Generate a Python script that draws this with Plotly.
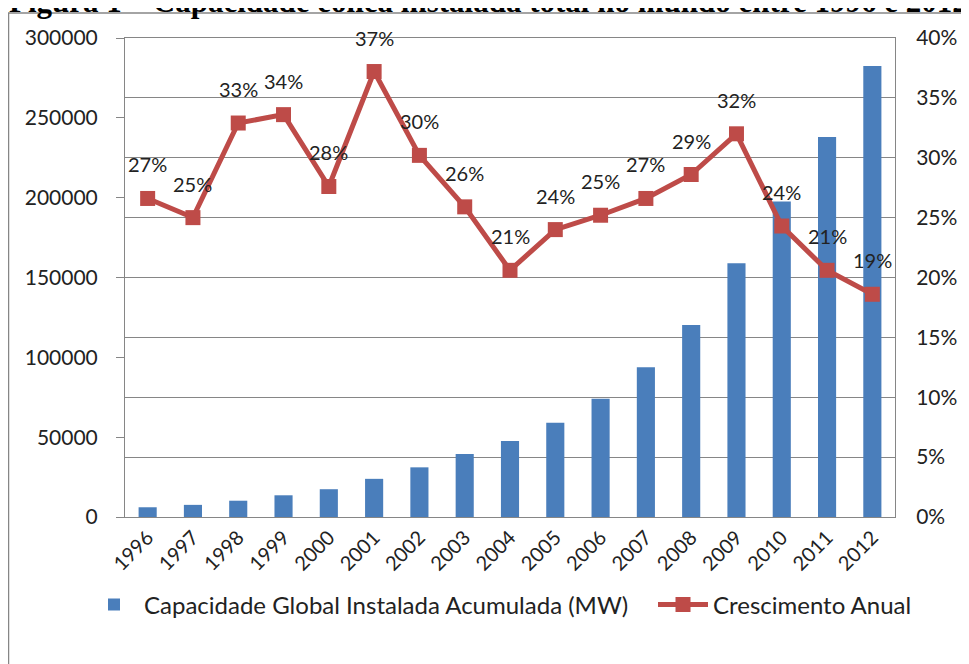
import plotly.graph_objects as go

years = ["1996", "1997", "1998", "1999", "2000", "2001", "2002", "2003", "2004",
         "2005", "2006", "2007", "2008", "2009", "2010", "2011", "2012"]
capacity_mw = [6100, 7600, 10200, 13600, 17400, 23900, 31100, 39400, 47600,
               59100, 74000, 93800, 120300, 158900, 197600, 238000, 282500]
growth_pct = [26.6, 25.0, 32.9, 33.6, 27.6, 37.2, 30.2, 25.9, 20.6,
              24.0, 25.2, 26.6, 28.6, 32.0, 24.3, 20.6, 18.6]

bar_name = "Capacidade Global Instalada Acumulada (MW)"
line_name = "Crescimento Anual"
title = "Figura 1 – Capacidade eólica instalada total no mundo entre 1996 e 2012"

font = "Lato, 'Open Sans', sans-serif"
grey = "#868686"

# plot area in figure pixels (page has an 8px body margin)
L, T, W, H = 117, 30, 770, 479
B = T + H

fig = go.Figure()
fig.add_trace(go.Bar(x=years, y=capacity_mw, name=bar_name, legend="legend",
                     marker=dict(color="#4A7EBB", line=dict(width=0))))
fig.add_trace(go.Scatter(x=years, y=growth_pct, name=line_name, yaxis="y2",
                         legend="legend2", mode="lines+markers",
                         line=dict(color="#BE4B48", width=5),
                         marker=dict(symbol="square", size=15, color="#BE4B48")))

# percentage labels above the points (category index on x)
for i, g in enumerate(growth_pct):
    fig.add_annotation(x=i, y=g, xref="x", yref="y2", text=f"{round(g)}%",
                       showarrow=False, yshift=34,
                       font=dict(family=font, size=20, color="#222222"))

# cropped figure caption at the very top
fig.add_annotation(x=(480 - L) / W, y=(B - 13) / H, xref="paper", yref="paper",
                   text="<b>" + title + "</b>", showarrow=False,
                   yanchor="bottom", xanchor="center",
                   font=dict(family="Liberation Serif, serif", size=31, color="black"))

# outer chart border
fig.add_shape(type="rect", xref="paper", yref="paper",
              x0=(0.5 - L) / W, x1=(990 - L) / W,
              y0=(B - 700) / H, y1=(B - 5) / H,
              line=dict(color=grey, width=1.5), fillcolor="rgba(0,0,0,0)")

leg = dict(orientation="h", xanchor="left", y=(B - 597) / H, yanchor="middle",
           font=dict(size=24), itemwidth=50, bgcolor="rgba(0,0,0,0)")

fig.update_layout(
    width=961, height=656,
    margin=dict(l=L, r=961 - L - W, t=T, b=656 - B),
    paper_bgcolor="white", plot_bgcolor="white",
    font=dict(family=font, size=19, color="#222222"),
    bargap=0.6,
    showlegend=True,
    legend=dict(leg, x=(76 - L) / W),
    legend2=dict(leg, x=(645 - L) / W),
    xaxis=dict(type="category", range=[-0.5, 16.5], tickangle=-45, showline=True,
               linecolor=grey, mirror=True, ticks="", showgrid=False,
               tickfont=dict(size=20)),
    yaxis=dict(range=[0, 300000], dtick=50000, tickformat="d", showgrid=False,
               showline=True, linecolor=grey, ticks="outside", ticklen=8,
               tickcolor=grey, ticklabelstandoff=14, tickfont=dict(size=21)),
    yaxis2=dict(range=[0, 40], dtick=5, ticksuffix="%", overlaying="y", side="right",
                showgrid=True, gridcolor=grey, gridwidth=1, showline=True,
                linecolor=grey, ticks="", ticklabelstandoff=16,
                tickfont=dict(size=21), zeroline=False),
)

fig.write_html("out.html")
